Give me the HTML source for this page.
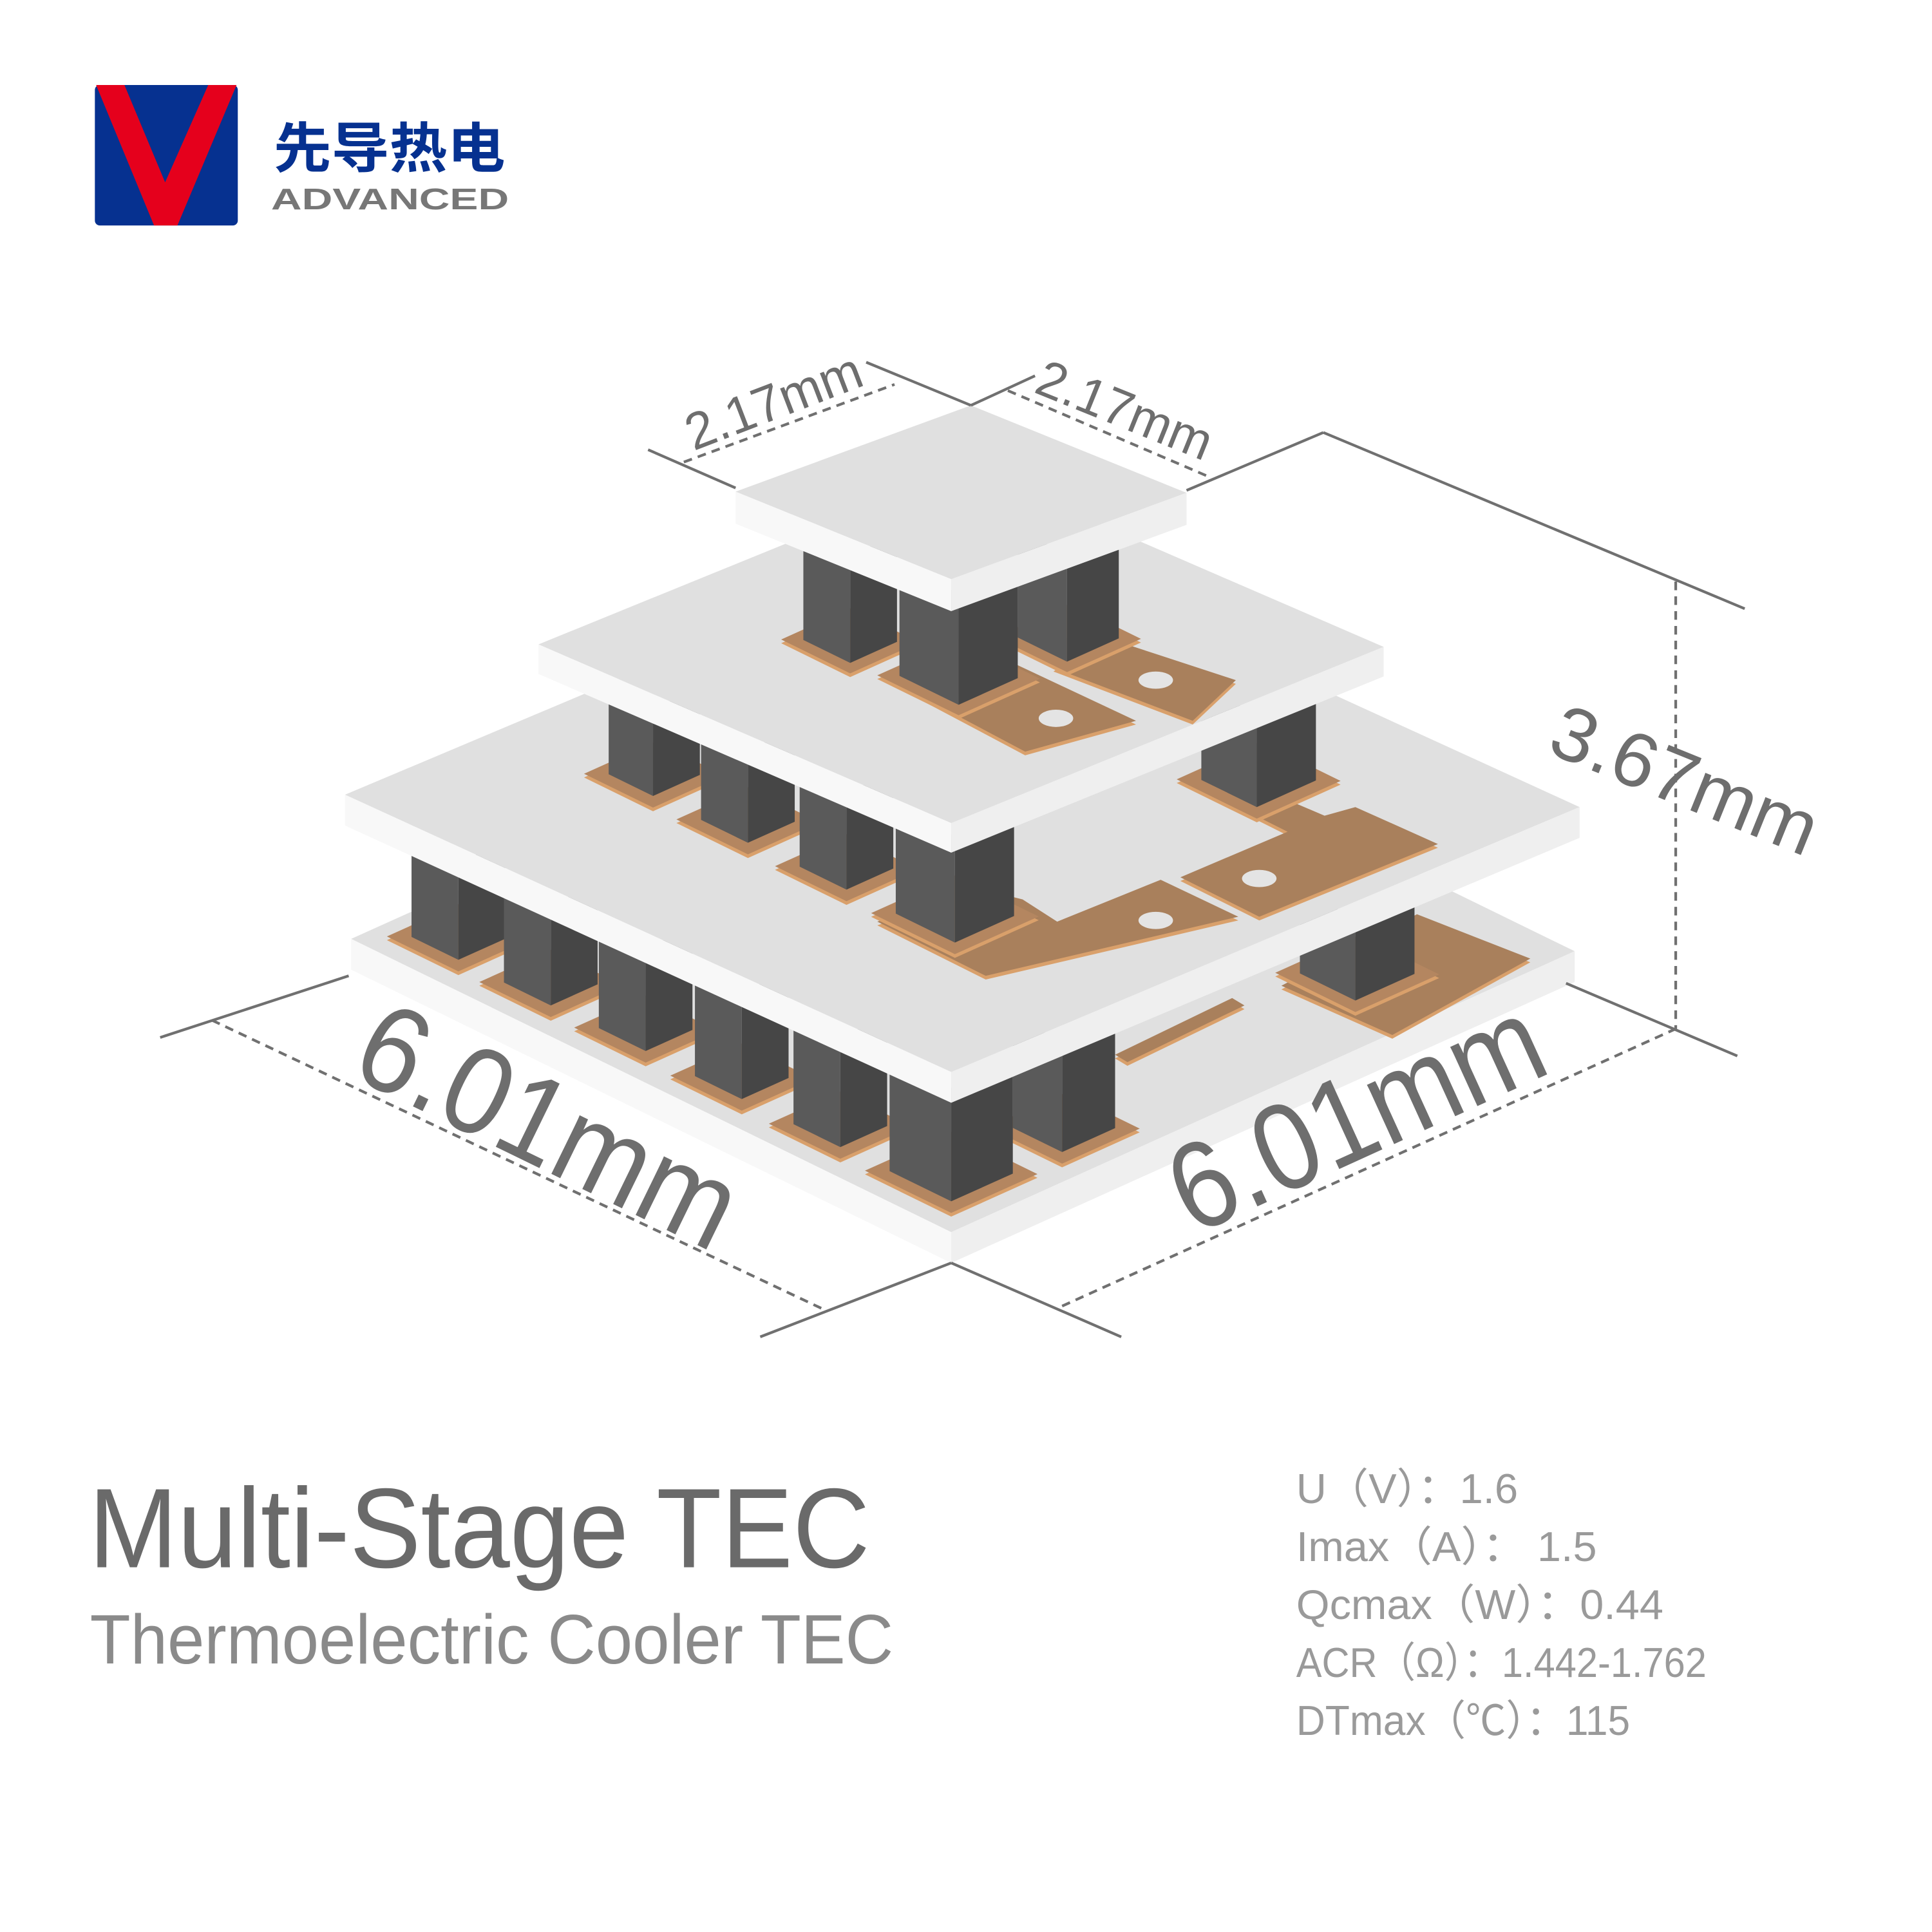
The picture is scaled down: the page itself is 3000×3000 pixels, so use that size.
<!DOCTYPE html>
<html><head><meta charset="utf-8"><style>html,body{margin:0;padding:0;background:#fff}svg{display:block}</style></head>
<body>
<svg id="s" width="3000" height="3000" viewBox="0 0 1568 1568" xmlns="http://www.w3.org/2000/svg">
<rect width="1568" height="1568" fill="#fff"/>
<rect x="77" y="69" width="116" height="114" rx="4" fill="#063190"/>
<polygon points="78,69 101,69 134,148 169,69 192,69 144,183 125,183" fill="#e5001c"/>
<text x="222" y="136" font-family="Noto Sans CJK SC, sans-serif" font-weight="bold" font-size="44" fill="#063190" textLength="188" lengthAdjust="spacingAndGlyphs">先导热电</text>
<text x="220" y="170" font-family="Liberation Sans, sans-serif" font-weight="bold" font-size="24" fill="#777" textLength="193" lengthAdjust="spacingAndGlyphs">ADVANCED</text>
<g id="art"></g>
<g stroke="#707070" stroke-width="2.2" fill="none">
<line x1="130" y1="842" x2="283" y2="792"/>
<line x1="617" y1="1085" x2="772" y2="1025"/>
<line x1="772" y1="1025" x2="910" y2="1085"/>
<line x1="1271" y1="798" x2="1410" y2="857"/>
<line x1="526" y1="365" x2="597" y2="396"/>
<line x1="703" y1="294" x2="788" y2="329"/>
<line x1="788" y1="329" x2="840" y2="305"/>
<line x1="963" y1="398" x2="1074" y2="351"/>
<line x1="1074" y1="351" x2="1416" y2="494"/>
<g stroke-dasharray="7 5">
<line x1="172" y1="828" x2="667" y2="1062"/>
<line x1="862" y1="1060" x2="1360" y2="835"/>
<line x1="1360" y1="472" x2="1360" y2="835"/>
<line x1="555" y1="375" x2="726" y2="312"/>
<line x1="818" y1="317" x2="979" y2="386"/>
</g></g>
<g font-family="Liberation Sans, sans-serif" fill="#6e6e6e">
<text transform="translate(282,872) rotate(26)" font-size="100" textLength="330" lengthAdjust="spacingAndGlyphs">6.01mm</text>
<text transform="translate(968,1003) rotate(-24.5)" font-size="100" textLength="322" lengthAdjust="spacingAndGlyphs">6.01mm</text>
<text transform="translate(1254,610) rotate(22)" font-size="62" textLength="228" lengthAdjust="spacingAndGlyphs">3.67mm</text>
<text transform="translate(563,366) rotate(-21)" font-size="42" textLength="150" lengthAdjust="spacingAndGlyphs">2.17mm</text>
<text transform="translate(838,318) rotate(22)" font-size="42" textLength="150" lengthAdjust="spacingAndGlyphs">2.17mm</text>
</g>
<text x="72" y="1272" font-family="Liberation Sans, sans-serif" font-size="92" fill="#6a6a6a" textLength="634" lengthAdjust="spacingAndGlyphs">Multi-Stage TEC</text>
<text x="73" y="1350" font-family="Liberation Sans, sans-serif" font-size="57" fill="#8a8a8a" textLength="652" lengthAdjust="spacingAndGlyphs">Thermoelectric Cooler TEC</text>
<g font-family="Liberation Sans, Noto Sans CJK SC, sans-serif" font-size="34" fill="#9a9a9a">
<text x="1052" y="1220" textLength="180" lengthAdjust="spacingAndGlyphs">U（V）：1.6</text>
<text x="1052" y="1267" textLength="244" lengthAdjust="spacingAndGlyphs">Imax（A）：  1.5</text>
<text x="1052" y="1314" textLength="298" lengthAdjust="spacingAndGlyphs">Qcmax（W）：0.44</text>
<text x="1052" y="1361" textLength="333" lengthAdjust="spacingAndGlyphs">ACR（Ω）：1.442-1.762</text>
<text x="1052" y="1408" textLength="271" lengthAdjust="spacingAndGlyphs">DTmax（℃）：115</text>
</g>
</svg>
<script>
(function(){
var g=document.getElementById('art'),NS='http://www.w3.org/2000/svg';
function poly(p,f){var e=document.createElementNS(NS,'polygon');e.setAttribute('points',p.map(function(q){return q[0].toFixed(1)+','+q[1].toFixed(1)}).join(' '));e.setAttribute('fill',f);g.appendChild(e);}
function ell(x,y){var e=document.createElementNS(NS,'ellipse');e.setAttribute('cx',x);e.setAttribute('cy',y);e.setAttribute('rx',14);e.setAttribute('ry',7);e.setAttribute('fill','#e4e4e4');g.appendChild(e);}
function plate(L,F,R,t){var B=[L[0]+R[0]-F[0],L[1]+R[1]-F[1]];
 poly([L,F,R,B],'#e0e0e0');
 poly([L,F,[F[0],F[1]+t],[L[0],L[1]+t]],'#f8f8f8');
 poly([F,R,[R[0],R[1]+t],[F[0],F[1]+t]],'#efefef');}
function pad(fx,fy,a,b,e){var F0=[fx,fy+0.94*e],A=a+2*e,Bb=b+2*e;
 var p=[F0,[F0[0]-A,F0[1]-0.49*A],[F0[0]-A+Bb,F0[1]-0.49*A-0.45*Bb],[F0[0]+Bb,F0[1]-0.45*Bb]];
 poly(p.map(function(q){return [q[0],q[1]+3]}),'#d9a06b');poly(p,'#b48660');}
function pillar(fx,fy,a,b,h){
 poly([[fx,fy],[fx-a,fy-0.49*a],[fx-a,fy-0.49*a-h],[fx,fy-h]],'#5a5a5a');
 poly([[fx,fy],[fx+b,fy-0.45*b],[fx+b,fy-0.45*b-h],[fx,fy-h]],'#464646');}
function tab(p,c){poly(p.map(function(q){return [q[0],q[1]+3]}),'#d9a06b');poly(p,c||'#a9805c');}
function hgt(fx,fy,bf){return fy-bf(fx)+12;}
function b1(x){return x<=772?670+0.457*(x-280):895-0.4216*(x-772);}
function b2(x){return x<=772?692-0.433*(772-x):692-0.407*(x-772);}
function b3(x){return x<=772?496-0.406*(772-x):496-0.366*(x-772);}
/* bottom plate */
plate([285,762],[772,1000],[1278,772],25);
/* stage1 */
tab([[905,856],[1000,810],[1010,816],[915,862]]);
tab([[1040,800],[1130,840],[1242,778],[1150,742]]);
var s1=[[372,779,38,38],[447,816,38,38],[524,853,38,38],[602,892,38,38],[682,931,38,38],[1100,812,45,48],[862,935,40,43],[772,975,50,50]];
s1.forEach(function(p){pad(p[0],p[1],p[2],p[3],10)});
s1.forEach(function(p){pillar(p[0],p[1],p[2],p[3],hgt(p[0],p[1],b1))});
/* middle plate */
plate([280,645],[772,870],[1282,655],25);
/* stage2 */
tab([[958,712],[1022,744],[1167,685],[1100,655],[1075,662],[1000,630],[975,640],[1045,675]]);
ell(1022,713);
tab([[712,748],[800,792],[1005,744],[942,714],[858,748],[830,730],[790,720]]);
ell(938,747);
var s2=[[530,646,36,38],[607,684,38,38],[687,722,38,38],[1020,655,45,48],[775,765,48,48]];
s2.forEach(function(p){pad(p[0],p[1],p[2],p[3],10)});
s2.forEach(function(p){pillar(p[0],p[1],p[2],p[3],hgt(p[0],p[1],b2))});
/* stage3 plate */
plate([437,523],[772,668],[1123,525],24);
/* stage3 */
tab([[855,542],[968,585],[1003,552],[890,515]]);ell(938,552);
tab([[715,548],[832,610],[922,585],[805,530]]);ell(857,583);
var s3=[[690,538,38,38],[866,537,40,42],[778,572,48,48]];
s3.forEach(function(p){pad(p[0],p[1],p[2],p[3],9)});
s3.forEach(function(p){pillar(p[0],p[1],p[2],p[3],hgt(p[0],p[1],b3))});
/* top plate */
plate([597,399],[772,470],[963,400],26);
})();
</script>
</body></html>
